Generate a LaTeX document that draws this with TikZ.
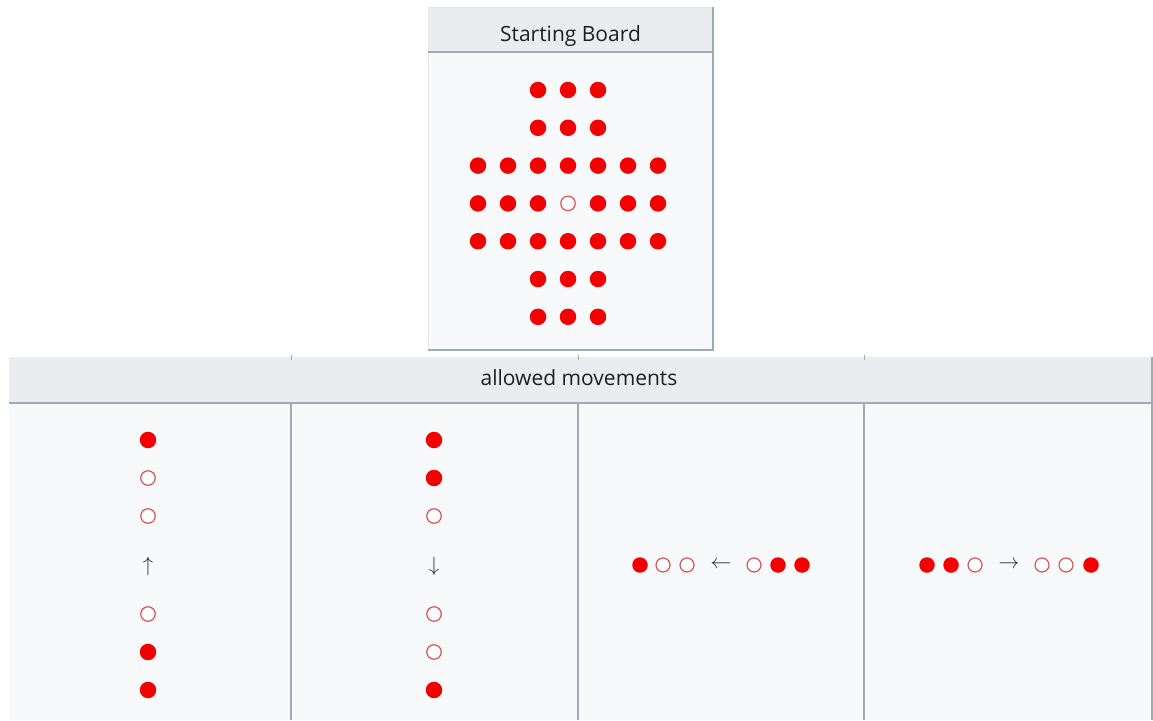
\documentclass[tikz,border=0pt]{standalone}
\usepackage{fontspec}
\setmainfont{Open Sans}
\usepackage{tikz}
\usetikzlibrary{positioning}
\definecolor{pegred}{HTML}{F50000}
\definecolor{holered}{HTML}{D95555}
\definecolor{headgray}{HTML}{EAECF0}
\definecolor{cellgray}{HTML}{F8F9FA}
\definecolor{rulegray}{HTML}{A2A9B1}
\definecolor{arrowgray}{HTML}{2A2A2A}

\begin{document}
\begin{tikzpicture}[x=1pt,y=-1pt,
  peg/.style={circle,fill=pegred,inner sep=0pt,minimum size=16.5pt},
  hole/.style={circle,draw=holered,fill=white,line width=1.2pt,inner sep=0pt,minimum size=14.5pt},
  smallpeg/.style={peg,minimum size=15.5pt},
  smallhole/.style={hole,minimum size=14pt},
  headtext/.style={font=\fontsize{21}{25}\selectfont,text=black!88,anchor=base},
  movearrow/.style={font=\fontsize{22}{26}\selectfont,text=arrowgray,inner sep=0pt},
  rule/.style={draw=rulegray,line width=1.2pt},
  softrule/.style={draw=rulegray!30,line width=0.8pt}
]
\useasboundingbox (0,0) rectangle (1153,720);

% Starting board table (top)
\fill[headgray] (428,7) rectangle (713,52);
\fill[cellgray] (428,52) rectangle (713,350);
\draw[softrule] (428,350) -- (428,7) -- (713,7);
\draw[rule] (428,52) -- (713,52);
\draw[rule] (713,7) -- (713,350) -- (428,350);
\node[headtext] (boardhead) at (570.5,41) {Starting Board};

% Pegs on the cross shaped board
\foreach \r in {0,...,6}
  \foreach \c in {0,...,6}{
    \pgfmathtruncatemacro{\inrow}{(\r>1)*(\r<5)}
    \pgfmathtruncatemacro{\incol}{(\c>1)*(\c<5)}
    \pgfmathtruncatemacro{\centre}{(\r==3)*(\c==3)}
    \ifnum\centre=1
      \node[hole] (b-\r-\c) at ({478+30*\c},{90+37.8*\r}) {};
    \else\ifnum\inrow\incol>0
      \node[peg] (b-\r-\c) at ({478+30*\c},{90+37.8*\r}) {};
    \fi\fi
  }

% Allowed movements table (bottom)
\fill[headgray] (9,357) rectangle (1152,403);
\fill[cellgray] (9,403) rectangle (1152,720);
\draw[rule] (9,403) -- (1152,403);
\draw[rule] (1152,357) -- (1152,720);
\foreach \x in {291,578,864}{
  \draw[rule] (\x,403) -- (\x,720);
  \draw[rulegray,line width=0.8pt] (\x,355) -- (\x,360);
}
\node[headtext] (movehead) at (579,385) {allowed movements};

% Jump up
\foreach \k/\y [count=\i] in {peg/440,hole/478,hole/516,hole/614,peg/652,peg/690}
  \node[\k] (up\i) at (148,\y) {};
\node[movearrow] (uparr) at (148,566) {$\uparrow$};

% Jump down
\foreach \k/\y [count=\i] in {peg/440,peg/478,hole/516,hole/614,hole/652,peg/690}
  \node[\k] (down\i) at (434,\y) {};
\node[movearrow] (downarr) at (434,566) {$\downarrow$};

% Jump left
\foreach \k/\x [count=\i] in {smallpeg/640,smallhole/663,smallhole/687,smallhole/754,smallpeg/778,smallpeg/802}
  \node[\k] (left\i) at (\x,565) {};
\node[movearrow] (leftarr) at (721,565) {$\leftarrow$};

% Jump right
\foreach \k/\x [count=\i] in {smallpeg/927,smallpeg/951,smallhole/975,smallhole/1042,smallhole/1066,smallpeg/1091}
  \node[\k] (right\i) at (\x,565) {};
\node[movearrow] (rightarr) at (1009,565) {$\rightarrow$};

\end{tikzpicture}
\end{document}
